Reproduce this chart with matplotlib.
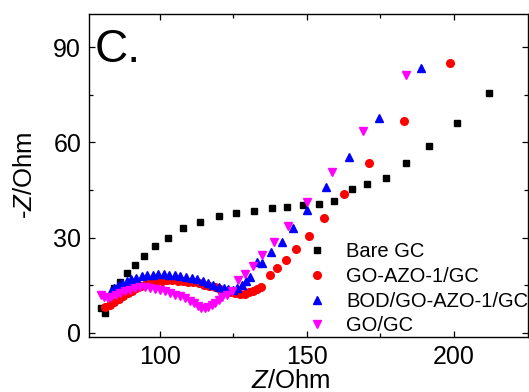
import numpy as np
import matplotlib
matplotlib.use('Agg')
import matplotlib.pyplot as plt

plt.rcParams['font.family'] = ['Liberation Sans', 'DejaVu Sans']
plt.rcParams['mathtext.fontset'] = 'custom'
plt.rcParams['mathtext.rm'] = 'Liberation Sans'
plt.rcParams['mathtext.it'] = 'Liberation Sans:italic'

# Bare GC
bare_x = [79.9, 81.3, 84.5, 86.6, 88.9, 91.4, 94.5, 98.2, 102.6, 107.8, 113.7, 120.0,
          125.9, 132.1, 138.0, 143.4, 148.6, 154.1, 159.2, 165.2, 170.3, 176.8, 183.6,
          191.4, 200.9, 212.1]
bare_y = [7.9, 6.3, 14.0, 16.1, 18.8, 21.2, 24.1, 27.3, 29.8, 33.0, 35.0, 36.9,
          37.9, 38.5, 39.2, 39.8, 40.3, 40.5, 41.6, 45.4, 46.9, 48.9, 53.5,
          59.0, 66.1, 75.5]

# GO-AZO-1/GC
red_x = [81.5, 83.0, 84.5, 86.0, 87.5, 89.0, 90.5, 92.0, 93.6, 95.2, 97.0, 98.8, 100.6,
         102.4, 104.2, 106.0, 107.8, 109.6, 111.4, 113.2, 115.0, 116.8, 118.6, 120.4,
         122.2, 124.0, 125.7, 127.3, 128.8, 130.2, 131.6, 133.0, 134.5, 137.4, 140.0,
         142.9, 146.3, 150.7, 155.8, 162.6, 171.2, 183.1, 198.7]
red_y = [8.0, 8.8, 9.7, 10.6, 11.5, 12.4, 13.2, 14.0, 14.7, 15.3, 15.8, 16.2, 16.4,
         16.5, 16.5, 16.4, 16.3, 16.1, 15.9, 15.6, 15.2, 14.8, 14.3, 13.8,
         13.3, 12.8, 12.4, 12.2, 12.3, 12.7, 13.3, 13.9, 14.3, 18.1, 20.3,
         23.0, 26.3, 30.6, 36.1, 43.7, 53.5, 66.8, 85.1]

# BOD/GO-AZO-1/GC
blue_x = [83.3, 84.5, 85.8, 87.2, 88.7, 90.3, 92.0, 93.8, 95.6, 97.5, 99.4, 101.3,
          103.2, 105.1, 107.0, 108.9, 110.8, 112.7, 114.6, 116.4, 118.2, 120.0, 121.7,
          123.3, 124.9, 126.4, 127.8, 129.2, 130.6, 132.9, 134.7, 137.8, 141.7, 145.3,
          150.0, 156.4, 164.3, 174.6, 188.9]
blue_y = [13.2, 14.0, 14.8, 15.6, 16.3, 16.9, 17.4, 17.8, 18.1, 18.3, 18.4, 18.4,
          18.3, 18.1, 17.8, 17.5, 17.1, 16.8, 16.4, 15.8, 15.1, 14.5, 14.0,
          13.7, 13.6, 14.0, 15.0, 16.3, 17.7, 22.4, 22.1, 25.3, 28.5, 33.1,
          38.7, 46.1, 55.4, 67.7, 83.5]

# GO/GC
mag_x = [80.0, 81.0, 82.2, 83.5, 85.0, 86.6, 88.3, 90.0, 91.7, 93.4, 95.1, 96.8, 98.5,
         100.2, 101.9, 103.6, 105.3, 107.0, 108.6, 110.1, 111.5, 112.8, 114.0, 115.2,
         116.4, 117.6, 118.8, 120.0, 121.3, 122.7, 124.4, 126.6, 128.9, 131.7, 134.9,
         138.9, 143.7, 150.2, 158.5, 169.2, 183.6]
mag_y = [11.8, 11.2, 11.0, 11.3, 11.9, 12.5, 13.1, 13.6, 14.0, 14.3, 14.3, 14.1, 13.8,
         13.4, 13.0, 12.5, 12.0, 11.5, 10.9, 10.1, 9.3, 8.5, 7.9, 7.7,
         8.0, 8.6, 9.4, 10.3, 11.1, 11.8, 13.2, 16.6, 18.4, 21.1, 24.5,
         28.7, 33.7, 41.1, 50.6, 63.5, 81.2]

fig = plt.figure(figsize=(5.29, 3.92), dpi=100)
ax = fig.add_axes([0.168, 0.140, 0.830, 0.824])

ax.plot(bare_x, bare_y, 's', color='black', ms=5, mec='black', label='Bare GC')
ax.plot(red_x, red_y, 'o', color='red', ms=5.5, mec='red', label='GO-AZO-1/GC')
ax.plot(blue_x, blue_y, '^', color='blue', ms=6, mec='blue', label='BOD/GO-AZO-1/GC')
ax.plot(mag_x, mag_y, 'v', color='magenta', ms=6, mec='magenta', label='GO/GC')

ax.set_xlim(75.85, 225.2)
ax.set_ylim(-1.4, 100.5)
ax.set_xticks([100, 150, 200])
ax.set_xticks([125, 175], minor=True)
ax.set_yticks([0, 30, 60, 90])
ax.set_yticks([15, 45, 75], minor=True)
ax.tick_params(which='both', direction='in', top=True, right=True, labelsize=18)
ax.tick_params(which='major', length=4.5, width=0.9)
ax.tick_params(which='minor', length=3, width=0.9)
ax.tick_params(axis='x', pad=6)
ax.tick_params(axis='y', pad=5.5)
for s in ax.spines.values():
    s.set_linewidth(1.0)

ax.set_xlabel('$Z$/Ohm', fontsize=18.5)
ax.set_ylabel('-$Z$/Ohm', fontsize=18.5)
ax.xaxis.set_label_coords(0.459, -0.10)
ax.yaxis.set_label_coords(-0.118, 0.5)

ax.text(0.013, 0.851, 'C.', transform=ax.transAxes, fontsize=33, va='baseline', ha='left')

ax.legend(loc='upper left', bbox_to_anchor=(0.501, 0.293), frameon=False, fontsize=14.5,
          handlelength=0.8, handletextpad=1.04, labelspacing=0.28, borderpad=0,
          borderaxespad=0)

fig.savefig('out.png', dpi=100)
